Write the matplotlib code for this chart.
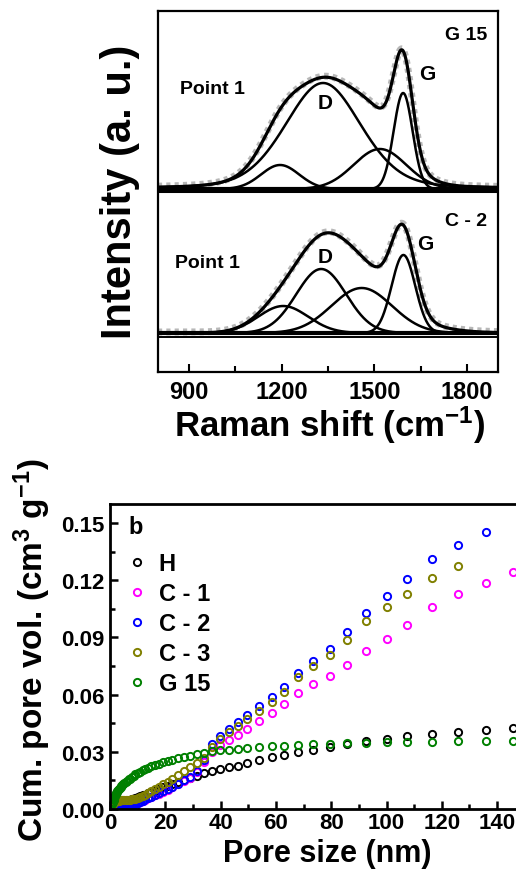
import numpy as np
import matplotlib
matplotlib.use('Agg')
import matplotlib.pyplot as plt
from matplotlib.ticker import MultipleLocator

plt.rcParams['font.family'] = ['Liberation Sans', 'DejaVu Sans']
plt.rcParams['font.weight'] = 'bold'
plt.rcParams['mathtext.default'] = 'regular'

# ---- Raman fits (band centre cm-1, height, FWHM, lorentz fraction) ----
g15_center = [1195, 1334, 1518, 1593]
g15_height = [24, 106, 40, 96]
g15_fwhm = [145, 290, 200, 72]
g15_eta = [0.0, 0.25, 0.0, 0.0]

c2_center = [1205, 1328, 1459, 1594]
c2_height = [27, 64, 45, 78]
c2_fwhm = [190, 190, 230, 90]
c2_eta = [0.0, 0.0, 0.0, 0.0]
c2_bg = [1500, 15, 350]          # broad fit background (centre, height, fwhm)

g15_offset = 183
c2_offset = 39

# ---- cumulative pore volume ----
pore_x = [0.9, 1.1, 1.3, 1.45, 1.6, 1.8, 1.9, 2.1, 2.3, 2.5, 2.7, 2.9, 3.2, 3.5,
          3.8, 4.1, 4.4, 4.8, 5.2, 5.7, 6.1, 6.7, 7.2, 7.8, 8.5, 9.2, 10.0, 10.9,
          11.8, 12.8, 13.9, 15.0, 16.3, 17.7, 19.2, 20.8, 22.6, 24.5, 26.6, 28.8,
          31.3, 33.9, 36.8, 39.8, 43.2, 46.4, 49.7, 54.0, 58.5, 63.0, 68.1, 73.5,
          79.6, 85.8, 92.6, 100.1, 107.5, 116.6, 126.0, 136.0, 145.9]

vol_H = [0.0003, 0.0005, 0.0006, 0.0007, 0.0008, 0.0009, 0.0010, 0.0011, 0.0012,
         0.0013, 0.0014, 0.0015, 0.0017, 0.0019, 0.0021, 0.0024, 0.0027, 0.0031,
         0.0035, 0.0039, 0.0042, 0.0046, 0.0049, 0.0052, 0.0055, 0.0058, 0.0061,
         0.0066, 0.0071, 0.0076, 0.0082, 0.0088, 0.0096, 0.0104, 0.0113, 0.0121,
         0.0130, 0.0140, 0.0150, 0.0162, 0.0175, 0.0188, 0.0200, 0.0210, 0.0220,
         0.0228, 0.0243, 0.0259, 0.0271, 0.0283, 0.0299, 0.0310, 0.0324, 0.0342,
         0.0357, 0.0369, 0.0382, 0.0396, 0.0406, 0.0415, 0.0423]

vol_C1 = [0.0003, 0.0005, 0.0006, 0.0007, 0.0008, 0.0009, 0.0009, 0.0010, 0.0010,
          0.0011, 0.0011, 0.0012, 0.0012, 0.0013, 0.0013, 0.0014, 0.0014, 0.0015,
          0.0016, 0.0017, 0.0018, 0.0019, 0.0020, 0.0022, 0.0024, 0.0027, 0.0031,
          0.0036, 0.0042, 0.0049, 0.0056, 0.0063, 0.0072, 0.0081, 0.0091, 0.0102,
          0.0116, 0.0131, 0.0148, 0.0165, 0.0195, 0.0245, 0.0300, 0.0335, 0.0364,
          0.0387, 0.0419, 0.0463, 0.0501, 0.0550, 0.0611, 0.0654, 0.0697, 0.0756,
          0.0827, 0.0890, 0.0965, 0.1060, 0.1126, 0.1185, 0.1241]

vol_C2 = [0.0004, 0.0006, 0.0007, 0.0008, 0.0009, 0.0010, 0.0010, 0.0011, 0.0011,
          0.0012, 0.0012, 0.0013, 0.0013, 0.0014, 0.0014, 0.0015, 0.0015, 0.0016,
          0.0017, 0.0018, 0.0019, 0.0020, 0.0021, 0.0023, 0.0025, 0.0028, 0.0033,
          0.0038, 0.0044, 0.0051, 0.0058, 0.0065, 0.0074, 0.0083, 0.0093, 0.0104,
          0.0118, 0.0133, 0.0150, 0.0170, 0.0200, 0.0255, 0.0340, 0.0385, 0.0420,
          0.0454, 0.0492, 0.0538, 0.0585, 0.0642, 0.0716, 0.0777, 0.0838, 0.0928,
          0.1030, 0.1117, 0.1204, 0.1313, 0.1384, 0.1452]

vol_C3 = [0.0020, 0.0028, 0.0033, 0.0036, 0.0038, 0.0040, 0.0041, 0.0042, 0.0043,
          0.0043, 0.0044, 0.0044, 0.0044, 0.0045, 0.0045, 0.0045, 0.0046, 0.0046,
          0.0046, 0.0047, 0.0047, 0.0048, 0.0049, 0.0050, 0.0051, 0.0053, 0.0057,
          0.0062, 0.0068, 0.0075, 0.0083, 0.0093, 0.0104, 0.0117, 0.0129, 0.0143,
          0.0160, 0.0180, 0.0200, 0.0222, 0.0242, 0.0265, 0.0325, 0.0368, 0.0402,
          0.0433, 0.0471, 0.0515, 0.0559, 0.0616, 0.0693, 0.0748, 0.0806, 0.0889,
          0.0986, 0.1060, 0.1129, 0.1214, 0.1274]

vol_G15 = [0.0025, 0.0035, 0.0045, 0.0053, 0.0060, 0.0068, 0.0073, 0.0080, 0.0086,
           0.0091, 0.0095, 0.0099, 0.0104, 0.0109, 0.0114, 0.0119, 0.0124, 0.0130,
           0.0136, 0.0143, 0.0148, 0.0155, 0.0160, 0.0167, 0.0174, 0.0181, 0.0189,
           0.0196, 0.0203, 0.0210, 0.0217, 0.0224, 0.0231, 0.0238, 0.0245, 0.0251,
           0.0258, 0.0265, 0.0273, 0.0280, 0.0288, 0.0296, 0.0303, 0.0308, 0.0312,
           0.0315, 0.0319, 0.0325, 0.0328, 0.0331, 0.0336, 0.0340, 0.0343, 0.0346,
           0.0348, 0.0350, 0.0352, 0.0354, 0.0355, 0.0356, 0.0358]

series = [('H', vol_H, 'black'), ('C - 1', vol_C1, '#ff00ff'),
          ('C - 2', vol_C2, '#0000ff'), ('C - 3', vol_C3, '#808000'),
          ('G 15', vol_G15, '#008000')]


def band(x, c, h, w, eta):
    g = np.exp(-4 * np.log(2) * (x - c) ** 2 / w ** 2)
    l = 1 / (1 + 4 * (x - c) ** 2 / w ** 2)
    return h * ((1 - eta) * g + eta * l)


W, H = 516, 870
fig = plt.figure(figsize=(W / 100, H / 100), dpi=100)


def fx(x):
    return x / W


def fy(y):
    return 1 - y / H


# ---------------- Raman panel ----------------
ax1 = fig.add_axes([fx(158), fy(373), 340 / W, 361 / H])
xr = np.linspace(800, 1900, 1101)

for offset, cen, hei, fw, eta, bg in [
        (g15_offset, g15_center, g15_height, g15_fwhm, g15_eta, None),
        (c2_offset, c2_center, c2_height, c2_fwhm, c2_eta, c2_bg)]:
    total = np.zeros_like(xr)
    for c, h, w, e in zip(cen, hei, fw, eta):
        comp = band(xr, c, h, w, e)
        total += comp
        ax1.plot(xr, comp + offset, color='black', lw=1.8, zorder=3)
    if bg is not None:
        total += band(xr, bg[0], bg[1], bg[2], 0)
    ax1.plot(xr, total + offset + 1, color='#9a9a9a', lw=5, alpha=0.7,
             ls=(0, (0.6, 0.6)), zorder=2)
    ax1.plot(xr, total + offset, color='black', lw=2.3, zorder=4)
    ax1.axhline(offset, color='black', lw=3, zorder=4)

ax1.axhline(181, color='black', lw=2.2, zorder=5)
ax1.axhline(c2_offset - 4, color='black', lw=1.4, zorder=5)

ax1.set_xlim(800, 1900)
ax1.set_ylim(0, 361)
ax1.set_yticks([])
ax1.set_xticks([900, 1200, 1500, 1800])
ax1.xaxis.set_minor_locator(MultipleLocator(150))
ax1.tick_params(axis='x', which='major', direction='in', length=6, width=1.5,
                labelsize=17, pad=6)
ax1.tick_params(axis='x', which='minor', direction='in', length=4, width=1.5)
for sp in ax1.spines.values():
    sp.set_linewidth(1.6)

fig.text(fx(120), fy(192), 'Intensity (a. u.)', rotation=90, fontsize=30,
         ha='center', va='center')
fig.text(fx(330), fy(425), 'Raman shift (cm$^{-1}$)', fontsize=25,
         ha='center', va='center')

fig.text(fx(180), fy(90), 'Point 1', fontsize=14, ha='left', va='center')
fig.text(fx(325), fy(104), 'D', fontsize=15, ha='center', va='center')
fig.text(fx(427), fy(75), 'G', fontsize=15, ha='center', va='center')
fig.text(fx(487), fy(35), 'G 15', fontsize=14, ha='right', va='center')
fig.text(fx(175), fy(264), 'Point 1', fontsize=14, ha='left', va='center')
fig.text(fx(325), fy(258), 'D', fontsize=15, ha='center', va='center')
fig.text(fx(425), fy(245), 'G', fontsize=15, ha='center', va='center')
fig.text(fx(487), fy(222), 'C - 2', fontsize=14, ha='right', va='center')

# ---------------- pore volume panel ----------------
ax2 = fig.add_axes([fx(110), fy(810), 414.8 / W, 305 / H])
for name, vol, col in series:
    ax2.plot(pore_x[:len(vol)], vol, ls='none', marker='o', ms=5.2, mfc='none',
             mec=col, mew=1.4, label=name)

ax2.set_xlim(0, 150)
ax2.set_ylim(0, 0.16)
ax2.set_xticks(np.arange(0, 141, 20))
ax2.set_yticks([0.0, 0.03, 0.06, 0.09, 0.12, 0.15])
ax2.set_yticklabels(['0.00', '0.03', '0.06', '0.09', '0.12', '0.15'])
ax2.xaxis.set_minor_locator(MultipleLocator(10))
ax2.yaxis.set_minor_locator(MultipleLocator(0.015))
ax2.tick_params(which='major', direction='in', length=6, width=1.8,
                labelsize=16, pad=4)
ax2.tick_params(axis='x', which='major', pad=2)
ax2.tick_params(which='minor', direction='in', length=3.5, width=1.8)
for sp in ax2.spines.values():
    sp.set_linewidth(2)

fig.text(fx(128), fy(528), 'b', fontsize=17, ha='left', va='center')
ax2.legend(loc='upper left', bbox_to_anchor=(fx(128), fy(553)),
           bbox_transform=fig.transFigure, frameon=False, fontsize=17,
           handlelength=0.8, handletextpad=0.5, labelspacing=0.3,
           borderpad=0, borderaxespad=0, numpoints=1)

fig.text(fx(327), fy(854), 'Pore size (nm)', fontsize=22, ha='center',
         va='center')
fig.text(fx(32), fy(650), 'Cum. pore vol. (cm$^3$ g$^{-1}$)', rotation=90,
         fontsize=24, ha='center', va='center')

fig.savefig('out.png', dpi=100)
